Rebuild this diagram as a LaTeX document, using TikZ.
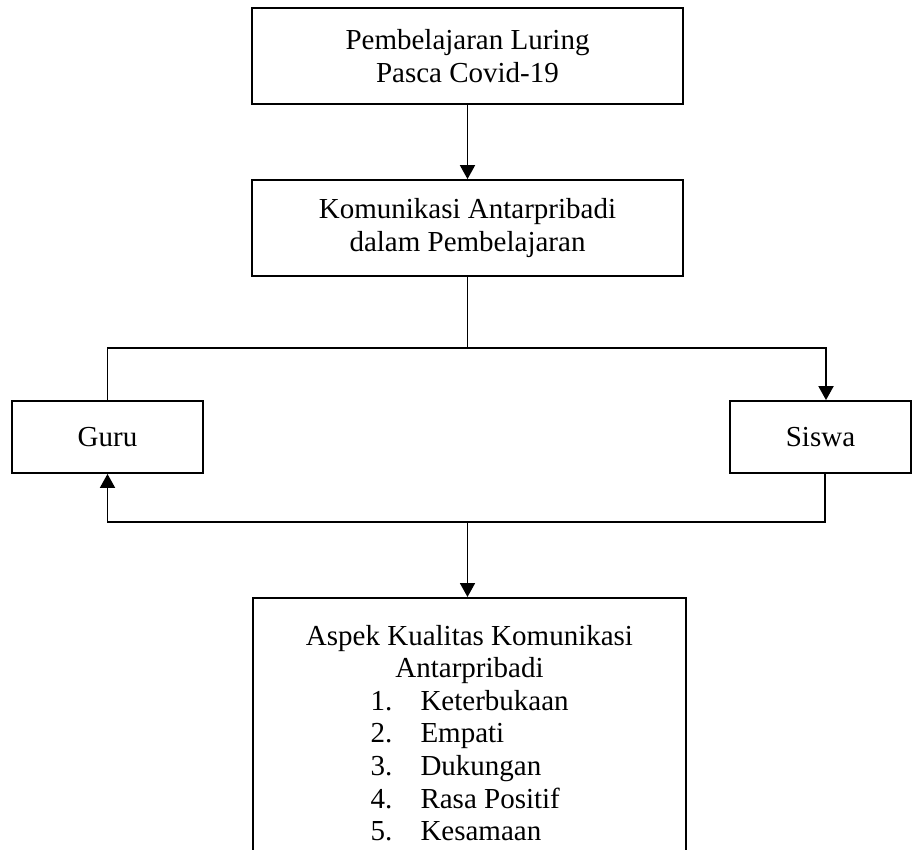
\documentclass[tikz,border=0pt]{standalone}
\usepackage{fontspec}
\setmainfont{Liberation Serif}
\usetikzlibrary{arrows.meta}

\newcommand{\aspekitem}[2]{\makebox[198pt][l]{\makebox[50pt][l]{#1.}#2}}

\begin{document}
\begin{tikzpicture}[x=1pt, y=-1pt,
  kotak/.style={draw, line width=1.8pt, align=center, font=\fontsize{29}{32.6}\selectfont},
  garis/.style={line width=1.8pt},
  panah/.style={line width=1.8pt, -{Triangle[width=15pt,length=14pt]}}]
\useasboundingbox (0,0) rectangle (912,849);
\clip (0,0) rectangle (912,849);

% kotak utama
\node[kotak, minimum width=431pt, minimum height=96pt] (luring) at (467.5,56) {Pembelajaran Luring\\Pasca Covid-19};
\node[kotak, minimum width=431pt, minimum height=96pt] (komunikasi) at (467.5,228) {Komunikasi Antarpribadi\\dalam Pembelajaran};
\node[kotak, minimum width=191pt, minimum height=72pt] (guru) at (107.5,437) {Guru};
\node[kotak, minimum width=181pt, minimum height=72pt] (siswa) at (820.5,437) {Siswa};
\node[kotak, minimum width=433pt, anchor=north, inner ysep=27pt] (aspek) at (469.5,597)
  {Aspek Kualitas Komunikasi\\Antarpribadi\\
   \aspekitem{1}{Keterbukaan}\\
   \aspekitem{2}{Empati}\\
   \aspekitem{3}{Dukungan}\\
   \aspekitem{4}{Rasa Positif}\\
   \aspekitem{5}{Kesamaan}};

% titik cabang
\coordinate (atas) at (467.5,348);
\coordinate (bawah) at (467.5,522);

\draw[panah] (luring) -- (komunikasi);
\draw[garis] (komunikasi.south) -- (atas);
\draw[garis] (atas) -| (guru.north);
\draw[panah] (atas) -| ([xshift=5.5pt]siswa.north);
\draw[panah] ([xshift=4.5pt]siswa.south) |- (bawah) -| (guru.south);
\draw[panah] (bawah) -- (bawah |- aspek.north);
\end{tikzpicture}
\end{document}
